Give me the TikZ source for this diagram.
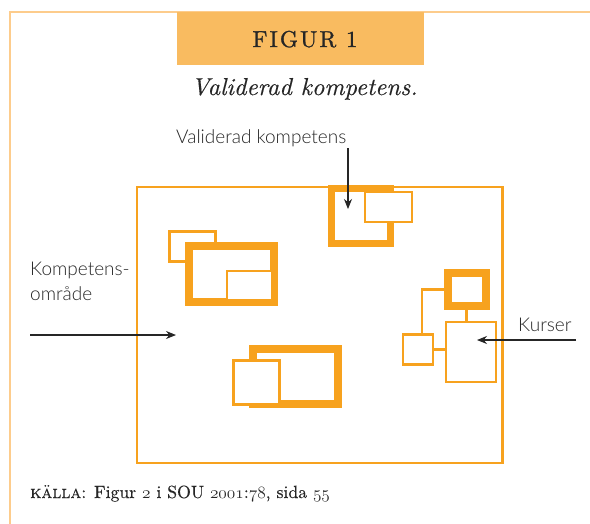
\documentclass[tikz,border=0pt]{standalone}
\usepackage{fontspec}
\newfontfamily\etikettfont{Lato Light}
\newfontfamily\rubrikfont{lmroman10-regular}[Extension=.otf,ItalicFont=lmroman10-italic,SmallCapsFont=lmromancaps10-regular]
\usetikzlibrary{arrows.meta,positioning}
\definecolor{kant}{HTML}{F7A21E}
\definecolor{rubrikfarg}{HTML}{F9BB60}
\definecolor{ramfarg}{HTML}{FDCC8C}
\definecolor{textgra}{HTML}{262626}
\newcommand\gamlasiffror[1]{{\fontencoding{OML}\fontfamily{cmm}\fontseries{m}\fontshape{it}\selectfont #1}}

\begin{document}
\begin{tikzpicture}[x=1pt,y=-1pt,
    tjock/.style={draw=kant,line width=8pt,fill=white,inner sep=0pt},
    tunn/.style={draw=kant,line width=2.6pt,fill=white,inner sep=0pt},
    linje/.style={draw=kant,line width=2.6pt},
    pil/.style={draw=textgra,line width=1.1pt,-{Stealth[length=10pt,width=8pt]}},
    etikett/.style={text=textgra,font=\etikettfont\fontsize{19}{25}\selectfont,inner sep=0pt}]
    \useasboundingbox (0,0) rectangle (590,523);
    \draw[ramfarg,line width=2pt] (10,524) -- (10,12) -- (592,12);
    % rubrik
    \node[fill=rubrikfarg,minimum width=247pt,minimum height=53pt,inner sep=0pt] (rubrik) at (300.5,38.5) {};
    \node[anchor=base,text=textgra,font=\rubrikfont\fontsize{23}{26}\selectfont\addfontfeature{LetterSpace=9,FakeBold=1.2}] (figur) at (305,47) {FIGUR 1};
    \node[anchor=base,text=textgra,font=\rubrikfont\fontsize{24.5}{30}\selectfont\itshape\addfontfeature{FakeBold=0.3}] (titel) at (304.5,95) {Validerad kompetens.};
    % kompetensområde
    \node[tunn,fill=none,minimum width=365.5pt,minimum height=276pt] (omrade) at (319.75,325) {};
    % uppe till höger
    \node[tjock,line width=7pt,minimum width=59.5pt,minimum height=55.5pt] (vk) at (360.75,215.75) {};
    \node[tunn,minimum width=47pt,minimum height=30pt] (vkliten) at (388.5,207) {};
    % vänster
    \node[tunn,minimum width=46.5pt,minimum height=30.5pt] (vbak) at (192.5,246.5) {};
    \node[tjock,minimum width=85pt,minimum height=56pt] (v) at (231.5,274) {};
    \node[tunn,minimum width=45pt,minimum height=29pt] (vfram) at (249.5,285.5) {};
    % nere
    \node[tjock,minimum width=85pt,minimum height=55pt] (n) at (295.5,376.5) {};
    \node[tunn,minimum width=46pt,minimum height=44pt] (nfram) at (256.5,382.5) {};
    % kurser
    \node[tjock,minimum width=38pt,minimum height=33.5pt] (kv) at (466.5,289.25) {};
    \node[tunn,minimum width=50pt,minimum height=60pt] (kb) at (471,352) {};
    \node[tunn,minimum width=30pt,minimum height=30pt] (kl) at (418,349.5) {};
    \draw[linje] (kv.west) -| ([xshift=4pt]kl.north);
    \draw[linje] (kv.south) -- (kv.south |- kb.north);
    \draw[linje] (kl.east) -- (kl.east -| kb.west);
    % etiketter
    \node[etikett,anchor=base west] (vklabel) at (176,143) {Validerad kompetens};
    \coordinate (vkstart) at (348,148);
    \coordinate (vkmal) at (348,209);
    \draw[pil] (vkstart) -- (vkmal);
    \node[etikett,anchor=base west,align=left] (kolabel) at (30,300) {Kompetens-\\område};
    \coordinate (kostart) at (30,335);
    \coordinate (komal) at (176,335);
    \draw[pil] (kostart) -- (komal);
    \node[etikett,anchor=base west] (kulabel) at (518,331) {Kurser};
    \coordinate (kustart) at (576,340);
    \coordinate (kumal) at (477,340);
    \draw[pil] (kustart) -- (kumal);
    % källa
    \node[anchor=base west,inner sep=0pt,text=textgra,font=\rubrikfont\fontsize{17.7}{24}\selectfont\addfontfeature{FakeBold=0.3}] (kalla) at (30,498)
      {\textsc{källa}: Figur \gamlasiffror{2} i SOU \gamlasiffror{2001}:\gamlasiffror{78}, sida \gamlasiffror{55}};
\end{tikzpicture}
\end{document}
